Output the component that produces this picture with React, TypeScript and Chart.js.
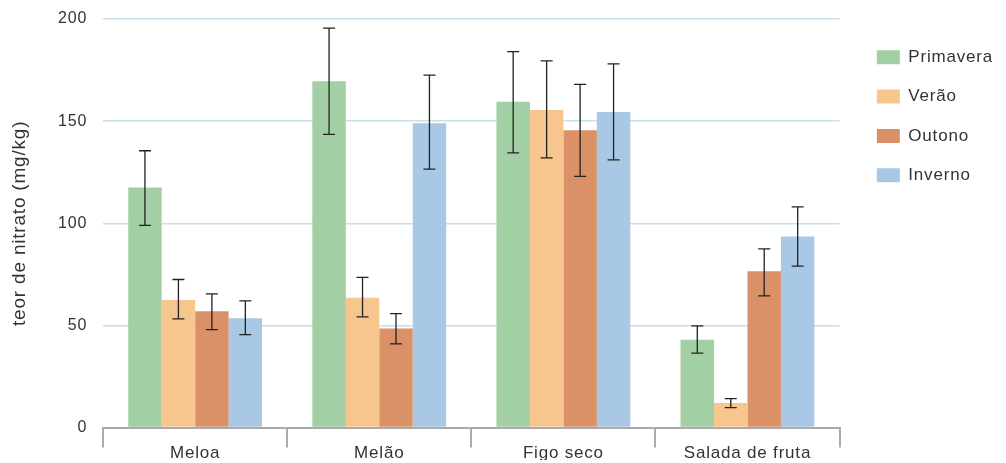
import React, { useEffect, useRef } from "react";
import { Chart, registerables } from "chart.js";

Chart.register(...registerables);

const categories = ["Meloa", "Melão", "Figo seco", "Salada de fruta"];
const seriesNames = ["Primavera", "Verão", "Outono", "Inverno"];
const seriesColors = ["#a3cfa5", "#f7c58e", "#db9168", "#a9c8e6"];

const primavera = [117.5, 169.5, 159.5, 43];
const verao = [62.5, 63.5, 155.5, 12];
const outono = [57, 48.5, 145.5, 76.5];
const inverno = [53.5, 149, 154.5, 93.5];

const primaveraHigh = [135.5, 195.5, 184, 49.8];
const primaveraLow = [99, 143.5, 134.5, 36.5];
const veraoHigh = [72.5, 73.5, 179.5, 14.2];
const veraoLow = [53.2, 54.2, 132, 9.8];
const outonoHigh = [65.5, 55.8, 168, 87.5];
const outonoLow = [48, 41, 123, 64.5];
const invernoHigh = [62, 172.5, 178, 108];
const invernoLow = [45.5, 126.5, 131, 79];

const yTicks = [0, 50, 100, 150, 200];
const yTitle = "teor de nitrato (mg/kg)";

const seriesValues = [primavera, verao, outono, inverno];
const seriesHigh = [primaveraHigh, veraoHigh, outonoHigh, invernoHigh];
const seriesLow = [primaveraLow, veraoLow, outonoLow, invernoLow];

const FONT = "'Liberation Sans', Arial, sans-serif";
const TEXT = "#333333";

const letterSpacingPlugin = {
  id: "letterSpacing",
  beforeUpdate(chart: any) {
    chart.ctx.letterSpacing = "0.8px";
  },
  beforeDraw(chart: any) {
    chart.ctx.letterSpacing = "0.8px";
  },
};

const errorBarPlugin = {
  id: "errorBars",
  afterDatasetsDraw(chart: any) {
    const ctx = chart.ctx;
    const yScale = chart.scales.y;
    ctx.save();
    ctx.strokeStyle = "#222222";
    ctx.lineWidth = 1.3;
    chart.data.datasets.forEach((ds: any, di: number) => {
      const meta = chart.getDatasetMeta(di);
      if (!meta || meta.hidden) return;
      meta.data.forEach((bar: any, i: number) => {
        const hi = ds.errHigh[i];
        const lo = ds.errLow[i];
        const x = bar.x;
        const yHi = yScale.getPixelForValue(hi);
        const yLo = yScale.getPixelForValue(lo);
        const cap = 6;
        ctx.beginPath();
        ctx.moveTo(x, yHi);
        ctx.lineTo(x, yLo);
        ctx.moveTo(x - cap, yHi);
        ctx.lineTo(x + cap, yHi);
        ctx.moveTo(x - cap, yLo);
        ctx.lineTo(x + cap, yLo);
        ctx.stroke();
      });
    });
    ctx.restore();
  },
};

export default function App() {
  const canvasRef = useRef<HTMLCanvasElement | null>(null);

  useEffect(() => {
    if (!canvasRef.current) return;
    const chart = new Chart(canvasRef.current, {
      type: "bar",
      data: {
        labels: categories,
        datasets: seriesNames.map((name, i) => ({
          label: name,
          data: seriesValues[i],
          errHigh: seriesHigh[i],
          errLow: seriesLow[i],
          backgroundColor: seriesColors[i],
          borderWidth: 0,
          categoryPercentage: 0.727,
          barPercentage: 1,
        })) as any,
      },
      options: {
        animation: false,
        responsive: true,
        maintainAspectRatio: false,
        layout: { padding: { top: 19, right: 3, bottom: 3, left: 0 } },
        plugins: {
          tooltip: { enabled: false },
          legend: {
            position: "right",
            align: "start",
            title: {
              display: true,
              text: "",
              font: { size: 6, lineHeight: 1 },
              padding: { top: 0, bottom: 1.5 },
            },
            labels: {
              boxWidth: 23,
              boxHeight: 14,
              padding: 22.3,
              color: TEXT,
              font: { family: FONT, size: 17 },
            },
          },
        },
        scales: {
          x: {
            grid: {
              display: true,
              drawOnChartArea: false,
              drawTicks: true,
              tickLength: 20,
              color: "#aaaaaa",
              lineWidth: 2,
            },
            border: { display: true, color: "#aaaaaa", width: 2 },
            ticks: {
              color: TEXT,
              padding: -4,
              font: { family: FONT, size: 17 },
            },
          },
          y: {
            min: 0,
            max: 200,
            afterBuildTicks: (scale: any) => {
              scale.ticks = yTicks.map((v) => ({ value: v }));
            },
            grid: {
              color: "#c6e1ea",
              lineWidth: 1.5,
              drawTicks: true,
              tickLength: 16,
              tickColor: "rgba(0,0,0,0)",
            },
            border: { display: false },
            ticks: {
              color: TEXT,
              padding: 0,
              font: { family: FONT, size: 16 },
            },
            title: {
              display: true,
              text: yTitle,
              color: TEXT,
              font: { family: FONT, size: 19 },
              padding: { top: 8.6, bottom: 26.6 },
            },
          },
          y2: {
            position: "right",
            display: true,
            grid: { display: false },
            border: { display: false },
            ticks: { display: false },
            afterFit: (scale: any) => {
              scale.width = 15;
            },
          },
        },
      } as any,
      plugins: [letterSpacingPlugin, errorBarPlugin],
    });
    return () => chart.destroy();
  }, []);

  return (
    <div style={{ position: "fixed", left: 0, top: 0, width: 1006, height: 463 }}>
      <canvas ref={canvasRef} />
    </div>
  );
}
